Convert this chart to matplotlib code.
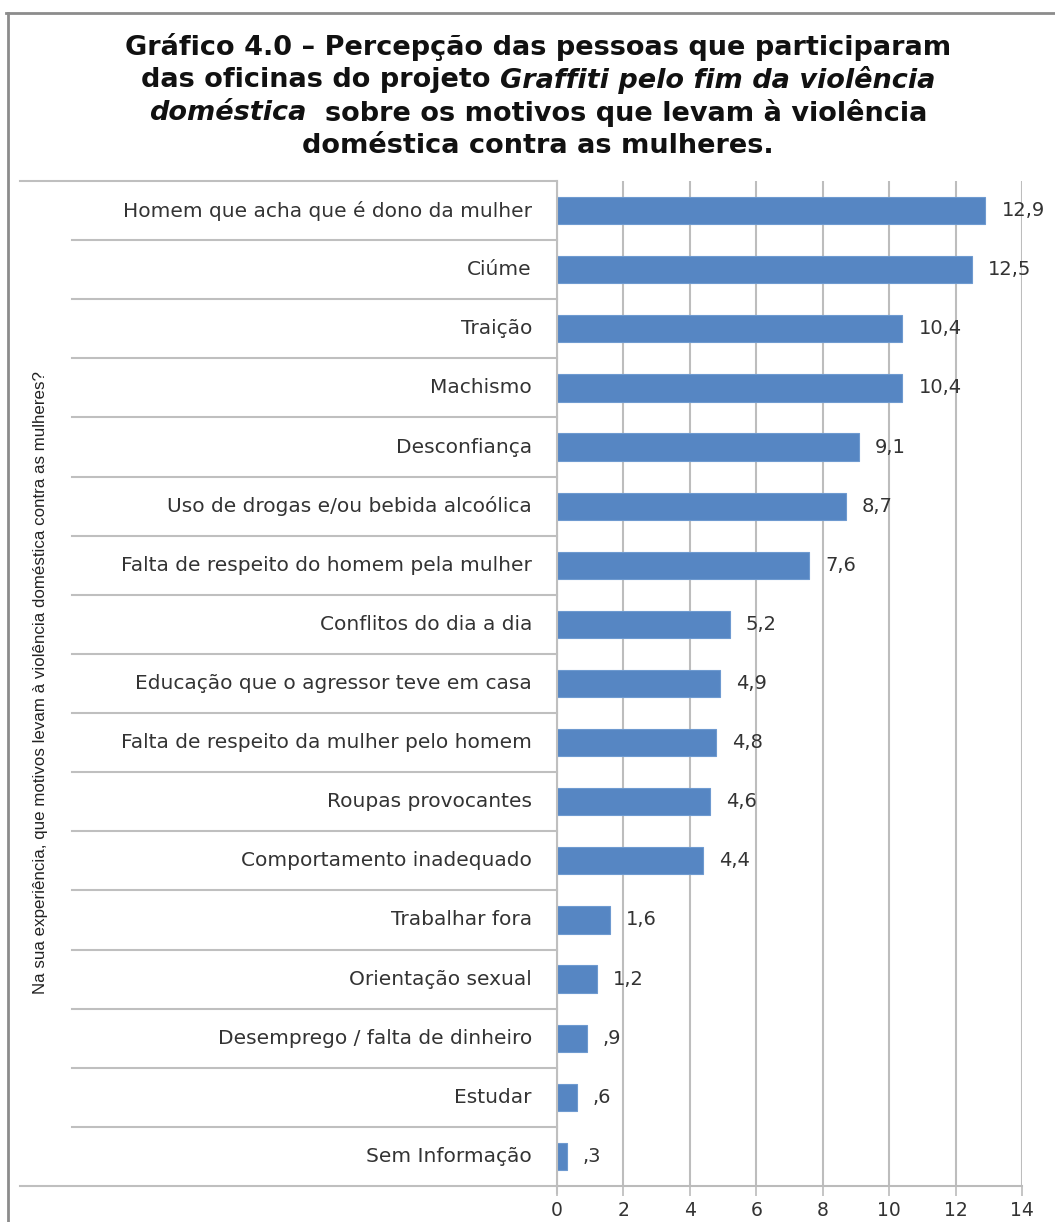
import matplotlib
matplotlib.use("Agg")
import matplotlib.pyplot as plt
from matplotlib.transforms import blended_transform_factory
from matplotlib.lines import Line2D
from matplotlib import font_manager
from matplotlib.font_manager import FontProperties

categories = [
    "Homem que acha que é dono da mulher",
    "Ciúme",
    "Traição",
    "Machismo",
    "Desconfiança",
    "Uso de drogas e/ou bebida alcoólica",
    "Falta de respeito do homem pela mulher",
    "Conflitos do dia a dia",
    "Educação que o agressor teve em casa",
    "Falta de respeito da mulher pelo homem",
    "Roupas provocantes",
    "Comportamento inadequado",
    "Trabalhar fora",
    "Orientação sexual",
    "Desemprego / falta de dinheiro",
    "Estudar",
    "Sem Informação",
]
values = [12.9, 12.5, 10.4, 10.4, 9.1, 8.7, 7.6, 5.2, 4.9, 4.8, 4.6, 4.4, 1.6, 1.2, 0.9, 0.6, 0.3]
xticks = [0, 2, 4, 6, 8, 10, 12, 14]
ylabel = "Na sua experiência, que motivos levam à violência doméstica contra as mulheres?"

W, H = 1055, 1222
fig = plt.figure(figsize=(W / 100, H / 100), dpi=100)
fig.patch.set_facecolor("white")

def fx(px):
    return px / W

def fy(py):
    return 1 - py / H

LABEL_FONT = "DejaVu Sans"
TXT = "#333333"

ax_l, ax_r, ax_t, ax_b = 557, 1022, 181, 1186
ax = fig.add_axes([fx(ax_l), fy(ax_b), fx(ax_r - ax_l), fy(ax_t) - fy(ax_b)])
n = len(categories)
ypos = list(range(n))
ax.barh(ypos, values, height=0.46, color="#5686C3", edgecolor="#6E9AD0", linewidth=0.8, zorder=3)
ax.set_ylim(n - 0.5, -0.5)
ax.set_xlim(0, 14)
ax.set_xticks(xticks)
ax.set_xticklabels([str(t) for t in xticks], fontsize=13.5, color=TXT, family=LABEL_FONT)
ax.set_yticks([])
for s in ["top", "right", "left"]:
    ax.spines[s].set_visible(False)
ax.spines["bottom"].set_color("#BBBBBB")
ax.spines["bottom"].set_linewidth(1.5)
ax.tick_params(axis="x", length=7, width=1.2, color="#BBBBBB", pad=4)
ax.grid(axis="x", color="#BDBDBD", linewidth=1.5, zorder=0)
ax.set_axisbelow(True)

def fmt(v):
    s = f"{v:.1f}".replace(".", ",")
    if s.startswith("0"):
        s = s[1:]
    return s

for y, v in zip(ypos, values):
    ax.annotate(fmt(v), (v, y), xytext=(16, 0), textcoords="offset pixels",
                va="center", ha="left", fontsize=14, color=TXT, family=LABEL_FONT, zorder=4)

# category labels and separators
tr = blended_transform_factory(fig.transFigure, ax.transData)
for y, c in zip(ypos, categories):
    fig.text(fx(532), y, c, transform=tr, ha="right", va="center", fontsize=14.5,
             color=TXT, family=LABEL_FONT)

for k in range(1, n):
    fig.add_artist(Line2D([fx(72), fx(ax_l)], [k - 0.5, k - 0.5], transform=tr, color="#BFBFBF", linewidth=1.5))
fig.add_artist(Line2D([fx(20), fx(ax_l)], [-0.5, -0.5], transform=tr, color="#BFBFBF", linewidth=1.5))
fig.add_artist(Line2D([fx(20), fx(ax_l)], [n - 0.5, n - 0.5], transform=tr, color="#BFBFBF", linewidth=1.5))
fig.add_artist(Line2D([fx(ax_l), fx(ax_l)], [fy(ax_t), fy(ax_b + 7)], color="#BFBFBF", linewidth=1.5))

# y label
fig.text(fx(41), fy(683), ylabel, rotation=90, ha="center", va="center", fontsize=12.2,
         color="#222222", family="Liberation Sans")

# outer frame
fig.add_artist(Line2D([fx(6), fx(1055)], [fy(13), fy(13)], color="#8C8C8C", linewidth=2))
fig.add_artist(Line2D([fx(8), fx(8)], [fy(13), fy(1222)], color="#8C8C8C", linewidth=2))

# pick a non-condensed bold family with a bold italic
def bold_italic_ok(fam):
    try:
        p = font_manager.findfont(FontProperties(family=fam, style="italic", weight="bold"),
                                  fallback_to_default=False)
        q = font_manager.findfont(FontProperties(family=fam, weight="bold"),
                                  fallback_to_default=False)
        pl, ql = p.lower(), q.lower()
        return (("italic" in pl or "oblique" in pl) and "condensed" not in pl
                and "condensed" not in ql and "bold" in ql)
    except Exception:
        return False

tfam = "Noto Sans" if bold_italic_ok("Noto Sans") else "DejaVu Sans"

title_lines = [
    [("Gráfico 4.0 – Percepção das pessoas que participaram", "normal")],
    [("das oficinas do projeto ", "normal"), ("Graffiti pelo fim da violência", "italic")],
    [("doméstica", "italic"), ("  sobre os motivos que levam à violência", "normal")],
    [("doméstica contra as mulheres.", "normal")],
]
title_y = [47, 80, 113, 146]
renderer = fig.canvas.get_renderer()
cx = 538
tsize = 18
probe = fig.text(0, 0, title_lines[0][0][0], fontsize=tsize, fontweight="bold", family=tfam)
pw = probe.get_window_extent(renderer).width
probe.remove()
tsize = tsize * 827 / pw
for line, py in zip(title_lines, title_y):
    texts = []
    for s, style in line:
        t = fig.text(0, fy(py), s, fontsize=tsize, fontweight="bold", style=style,
                     family=tfam, ha="left", va="center", color="#111111")
        texts.append(t)
    widths = [t.get_window_extent(renderer).width for t in texts]
    total = sum(widths)
    x0 = cx - total / 2
    for t, w in zip(texts, widths):
        t.set_x(fx(x0))
        x0 += w

fig.savefig("out.png", dpi=100, facecolor="white")
